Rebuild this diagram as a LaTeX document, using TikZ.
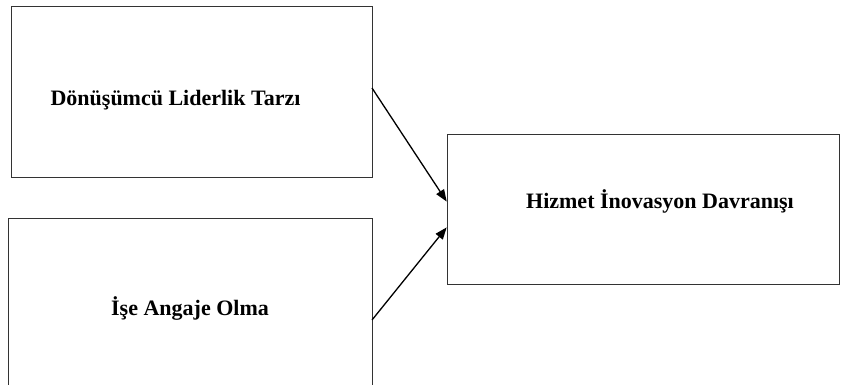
\documentclass[tikz,border=0pt]{standalone}
\usepackage{fontspec}
\setmainfont{Liberation Serif}
\usetikzlibrary{arrows.meta}
\begin{document}
\begin{tikzpicture}[x=1pt,y=-1pt,
  box/.style={draw=black!80,line width=1pt,inner sep=0pt,outer sep=0pt},
  lbl/.style={font=\bfseries\fontsize{22}{26}\selectfont,anchor=base,inner sep=0pt},
  arr/.style={draw=black,line width=1.3pt,-{Triangle[length=12pt,width=9pt]},shorten >=0.5pt}]
\useasboundingbox (0,0) rectangle (861,385);
\node[box,minimum width=361pt,minimum height=170pt] (b1) at (191.5,92) {};
\node[box,minimum width=364pt,minimum height=174pt] (b2) at (190,305) {};
\node[box,minimum width=392pt,minimum height=150pt] (b3) at (643,209) {};
\node[lbl] (t1) at (175.5,106) {Dönüşümcü Liderlik Tarzı};
\node[lbl] (t2) at (190,315) {İşe Angaje Olma};
\node[lbl] (t3) at (660,208) {Hizmet İnovasyon Davranışı};
\draw[arr] ([yshift=4pt]b1.east) -- ([yshift=7pt]b3.west);
\draw[arr] ([yshift=-15pt]b2.east) -- ([yshift=-18pt]b3.west);
\end{tikzpicture}
\end{document}
